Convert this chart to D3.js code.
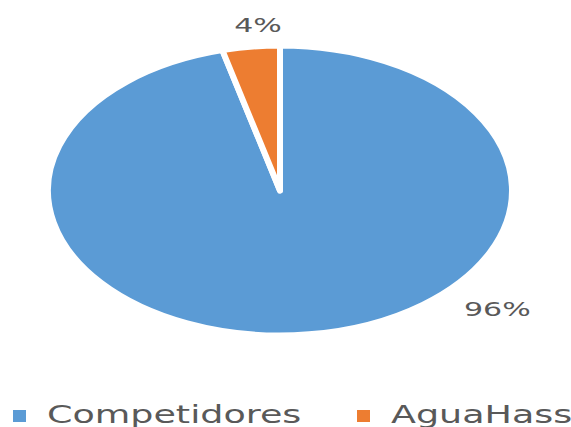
<!DOCTYPE html>
<html><head><meta charset="utf-8">
<script src="https://cdn.jsdelivr.net/npm/d3@7"></script>
<style>html,body{margin:0;padding:0;background:#fff;}</style>
</head><body>
<svg id="c" width="571" height="427"></svg>
<script>
const categories = ["Competidores", "AguaHass"];
const values = [96, 4];
const labels = ["96%", "4%"];
const colors = ["#5B9BD5", "#ED7D31"];

const svg = d3.select("#c");
const cx = 280, cy = 190.5, sx = 1.6, r = 145;
const color = d3.scaleOrdinal().domain(categories).range(colors);
const pie = d3.pie().sort(null).value(d => d.v);
const data = pie(categories.map((c, i) => ({c, v: values[i], l: labels[i]})));
const arc = d3.arc().innerRadius(0).outerRadius(r);

const g = svg.append("g").attr("transform", `translate(${cx},${cy}) scale(${sx},1)`);
g.selectAll("path").data(data).join("path")
  .attr("d", arc)
  .attr("fill", d => color(d.data.c))
  .attr("stroke", "#fff")
  .attr("stroke-width", 6)
  .attr("stroke-linejoin", "round")
  .attr("vector-effect", "non-scaling-stroke");

// label placement (angle in degrees from top, radius) per slice
const labelPos = [{a: 131, rad: 180}, {a: -4.75, rad: 166}];
g.selectAll("text.lbl").data(data).join("text")
  .attr("class", "lbl")
  .attr("transform", (d, i) => {
    const a = labelPos[i].a * Math.PI / 180;
    const x = Math.sin(a) * labelPos[i].rad, y = -Math.cos(a) * labelPos[i].rad;
    return `translate(${x},${y}) scale(${1.5 / sx},1)`;
  })
  .attr("text-anchor", "middle")
  .attr("dy", "0.36em")
  .attr("font-family", "DejaVu Sans")
  .attr("font-size", 20)
  .attr("fill", "#595959")
  .text(d => d.data.l);

// legend
const legendX = [13, 357];
const lg = svg.append("g");
const items = lg.selectAll("g").data(categories).join("g")
  .attr("transform", (d, i) => `translate(${legendX[i]},410)`);
items.append("rect").attr("width", 13).attr("height", 12).attr("fill", d => color(d));
items.append("text")
  .attr("transform", `translate(${34},13) scale(1.52,1)`)
  .attr("font-family", "DejaVu Sans")
  .attr("font-size", 24)
  .attr("fill", "#595959")
  .text(d => d);
</script>
</body></html>
